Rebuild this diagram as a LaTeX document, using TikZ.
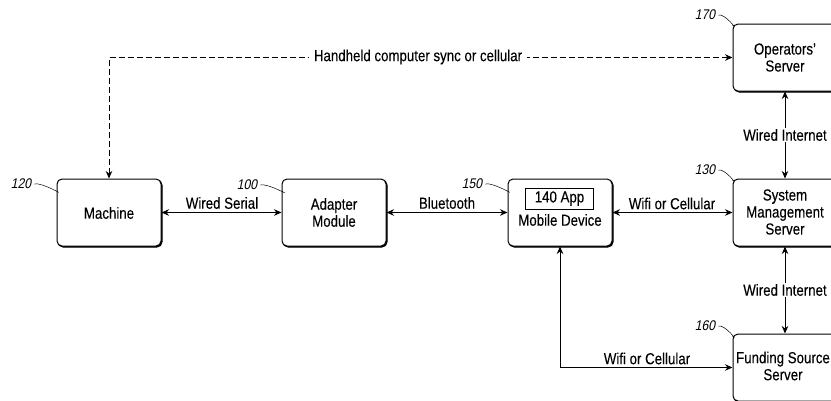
\documentclass[tikz,border=0pt]{standalone}
\usepackage{fontspec}
\setmainfont{Liberation Sans}[FakeStretch=0.83,FakeBold=0.15]
\newfontfamily\reffont{Liberation Sans}[FakeStretch=0.87,FakeSlant=0.2]
\usetikzlibrary{arrows.meta,shadows}
\tikzset{
  x=1pt,y=-1pt,
  blockbox/.style={draw=black,line width=1pt,fill=white,rounded corners=5pt,minimum width=104pt,minimum height=67pt,inner sep=0pt,
    copy shadow={shadow xshift=1pt,shadow yshift=-1pt,draw=black,fill=black}},
  boxtext/.style={font=\fontsize{16}{17}\selectfont,align=center,inner sep=0pt,text=black},
  linktext/.style={font=\fontsize{16}{17}\selectfont,inner sep=1.5pt,text=black},
  reftext/.style={font=\fontsize{14}{14}\reffont,inner sep=0pt,text=black},
  link/.style={line width=.9pt,{Stealth[length=7.5pt,width=6.5pt]}-{Stealth[length=7.5pt,width=6.5pt]}},
  dashlink/.style={line width=.9pt,dash pattern=on 6pt off 3pt,{Stealth[length=7.5pt,width=6.5pt]}-{Stealth[length=7.5pt,width=6.5pt]}},
  leader/.style={line width=.5pt},
}
\begin{document}
\begin{tikzpicture}
\useasboundingbox (0,0) rectangle (831,400);
% blocks
\node[blockbox] (machine) at (109,212.5) {};
\node[blockbox] (adapter) at (334,212.5) {};
\node[blockbox] (mobile) at (560,212.5) {};
\node[blockbox] (system) at (785,212.5) {};
\node[blockbox] (operators) at (785,57.5) {};
\node[blockbox] (funding) at (785,367.5) {};
% block texts
\node[boxtext] (machinetext) at (109,213) {Machine};
\node[boxtext] (adaptertext) at (334,212.5) {Adapter\\Module};
\node[boxtext] (systemtext) at (785,212) {System\\Management\\Server};
\node[boxtext] (operatorstext) at (785,57.5) {Operators'\\Server};
\node[boxtext] (fundingtext) at (783,366) {Funding Source\\Server};
\node[draw=black,line width=.8pt,minimum width=68pt,minimum height=21pt,inner sep=0pt,font=\fontsize{16}{17}\selectfont,text=black] (app) at (559.5,198.5) {140 App};
\node[boxtext] (mobiletext) at (560,220) {Mobile Device};
% connectors
\draw[link] (machine) -- (adapter);
\draw[link] (adapter) -- (mobile);
\draw[link] (mobile) -- (system);
\draw[link] (operators) -- node[linktext,fill=white,pos=.5] (wi1) {Wired Internet} (system);
\draw[link] (system) -- node[linktext,fill=white,pos=.5] (wi2) {Wired Internet} (funding);
\draw[link] (mobile.south) |- (funding.west);
\coordinate (dashcorner) at (machine.north |- operators.west);
\draw[dashlink] (machine.north) -- (dashcorner) -- (operators.west);
% link labels
\node[linktext,fill=white,inner xsep=5pt] (sync) at (418,57) {Handheld computer sync or cellular};
\node[linktext] (serial) at (222,203) {Wired Serial};
\node[linktext] (bt) at (447,203) {Bluetooth};
\node[linktext] (wifi1) at (672,203.5) {Wifi or Cellular};
\node[linktext] (wifi2) at (647,358.5) {Wifi or Cellular};
% reference numerals
\node[reftext] (r120) at (21,184) {120};
\node[reftext] (r100) at (247,185) {100};
\node[reftext] (r150) at (472,184) {150};
\node[reftext] (r130) at (705,170) {130};
\node[reftext] (r170) at (705,15) {170};
\node[reftext] (r160) at (705,326) {160};
\draw[leader] (r120.east)++(3,0) .. controls +(8,-2) and +(10,6) .. (machine.north west |- 0,191);
\draw[leader] (r100.east)++(3,0) .. controls +(8,-2) and +(10,6) .. (adapter.north west |- 0,191);
\draw[leader] (r150.east)++(3,0) .. controls +(8,-2) and +(10,6) .. (mobile.north west |- 0,191);
\draw[leader] (r130.east)++(3,0) .. controls +(6,-2) and +(6,6) .. (system.north west |- 0,180);
\draw[leader] (r170.east)++(3,0) .. controls +(6,-2) and +(6,6) .. (operators.north west |- 0,25);
\draw[leader] (r160.east)++(3,0) .. controls +(6,-2) and +(6,6) .. (funding.north west |- 0,336);
\end{tikzpicture}
\end{document}
